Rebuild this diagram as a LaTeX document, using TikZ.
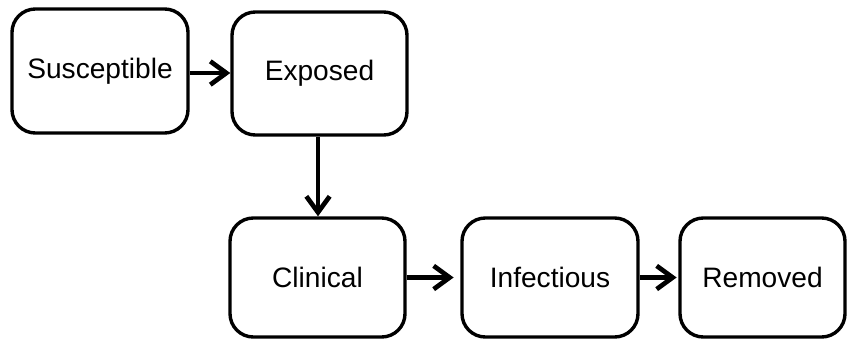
\documentclass[tikz,border=0pt]{standalone}
\usepackage{fontspec}
\setmainfont{Liberation Sans}
\usetikzlibrary{arrows.meta}

\begin{document}
\begin{tikzpicture}[x=0.03cm,y=-0.03cm]
        %
        % `compartment' is used for the boxes of the model.
        % `flow' is used for the arrows between them.
        \tikzstyle{compartment} = [draw,line width=2.9pt,rounded corners=0.7cm,inner sep=0pt,
                font=\fontsize{24}{28}\selectfont]
        \tikzstyle{flow} = [line width=4.2pt,-{Straight Barb[length=0.48cm,width=0.7cm,line width=4pt]}]
        %
        \useasboundingbox (0,0) rectangle (847,339);
        %
        % Top row
        \node[compartment,minimum width=5.28cm,minimum height=3.72cm] (sus) at (100,71) {Susceptible};
        \node[compartment,minimum width=5.25cm,minimum height=3.69cm] (exp) at (319.5,73.5) {Exposed};
        %
        % Bottom row
        \node[compartment,minimum width=5.25cm,minimum height=3.57cm] (cli) at (317.5,277.5) {Clinical};
        \node[compartment,minimum width=5.28cm,minimum height=3.57cm] (inf) at (550,277.5) {Infectious};
        \node[compartment,minimum width=4.95cm,minimum height=3.57cm] (rem) at (762.5,277.5) {Removed};
        %
        % Arrows
        \draw[flow] (sus.east |- 0,73) -- (exp.west |- 0,73);
        \draw[flow] (exp.south -| 318,0) -- (cli.north -| 318,0);
        \draw[flow,shorten >=0.2cm] (cli) -- (inf);
        \draw[flow,shorten >=0.05cm] (inf) -- (rem);
        %
\end{tikzpicture}
\end{document}
